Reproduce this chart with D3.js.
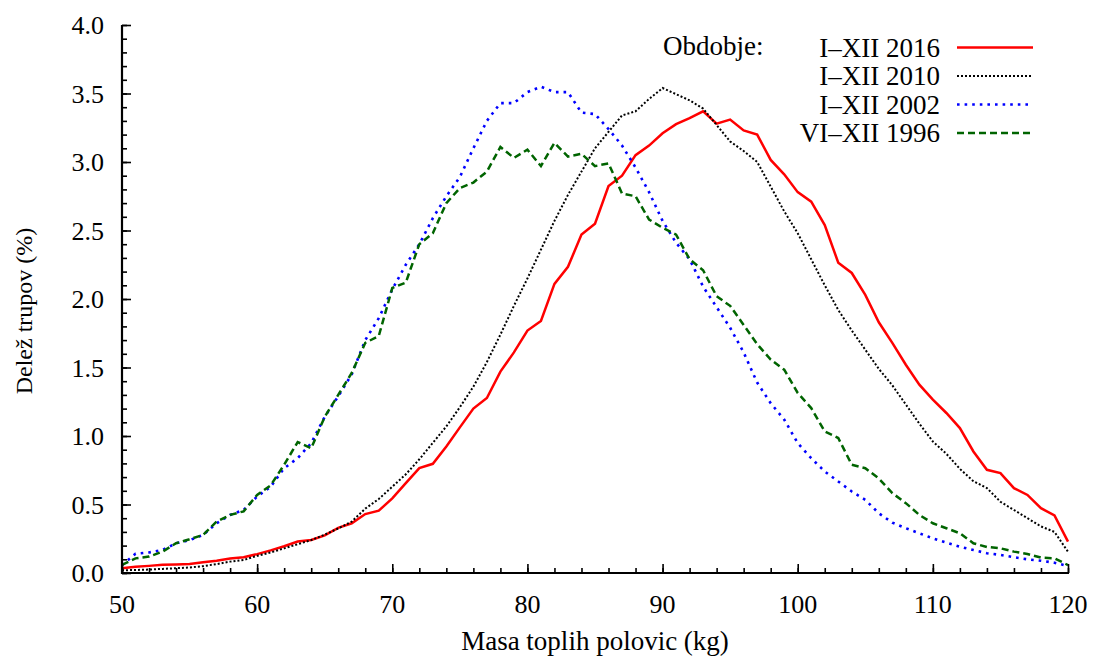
<!DOCTYPE html>
<html>
<head>
<meta charset="utf-8">
<script src="https://cdn.jsdelivr.net/npm/d3@7"></script>
<style>
  html, body { margin: 0; padding: 0; background: #ffffff; }
  svg { display: block; }
  text { font-family: "Liberation Serif", "Times New Roman", serif; fill: #000; }
</style>
</head>
<body>
<svg id="chart" width="1095" height="661"></svg>
<script>
// ---- data ----
const masses = d3.range(50, 121); // 50..120 kg

const s2016 = [0.035,0.046,0.052,0.060,0.062,0.065,0.078,0.090,0.105,0.115,
  0.138,0.165,0.195,0.230,0.241,0.275,0.330,0.363,0.430,0.455,
  0.545,0.656,0.766,0.797,0.924,1.063,1.200,1.277,1.470,1.610,
  1.770,1.840,2.110,2.235,2.470,2.550,2.825,2.900,3.050,3.120,
  3.210,3.276,3.320,3.370,3.280,3.310,3.230,3.200,3.015,2.910,
  2.780,2.710,2.540,2.265,2.190,2.030,1.830,1.680,1.520,1.375,
  1.265,1.168,1.058,0.887,0.753,0.729,0.619,0.570,0.473,0.420,
  0.229];

const s2010 = [0.020,0.022,0.025,0.030,0.035,0.040,0.050,0.065,0.083,0.095,
  0.125,0.150,0.180,0.210,0.240,0.280,0.325,0.375,0.470,0.540,
  0.630,0.720,0.830,0.950,1.070,1.210,1.360,1.540,1.740,1.950,
  2.150,2.360,2.570,2.760,2.930,3.100,3.220,3.340,3.370,3.460,
  3.540,3.495,3.450,3.390,3.270,3.150,3.080,3.000,2.820,2.640,
  2.480,2.290,2.100,1.920,1.770,1.630,1.490,1.370,1.230,1.090,
  0.960,0.870,0.760,0.670,0.620,0.520,0.460,0.400,0.340,0.300,
  0.155];

const s2002 = [0.058,0.140,0.150,0.168,0.217,0.240,0.278,0.363,0.424,0.460,
  0.558,0.630,0.765,0.838,0.948,1.140,1.290,1.450,1.700,1.860,
  2.070,2.250,2.400,2.590,2.750,2.890,3.100,3.300,3.430,3.430,
  3.510,3.550,3.510,3.510,3.360,3.350,3.240,3.120,2.960,2.780,
  2.570,2.410,2.290,2.090,1.940,1.790,1.610,1.390,1.240,1.120,
  0.948,0.838,0.741,0.668,0.595,0.534,0.436,0.368,0.327,0.290,
  0.253,0.222,0.192,0.168,0.144,0.132,0.115,0.100,0.090,0.075,
  0.051];

const s1996 = [0.060,0.107,0.120,0.156,0.217,0.246,0.278,0.375,0.424,0.450,
  0.570,0.640,0.790,0.956,0.910,1.140,1.300,1.460,1.680,1.730,
  2.080,2.120,2.400,2.480,2.700,2.810,2.850,2.930,3.110,3.030,
  3.090,2.970,3.140,3.040,3.060,2.970,2.990,2.770,2.750,2.580,
  2.520,2.470,2.290,2.210,2.020,1.950,1.810,1.670,1.558,1.484,
  1.314,1.204,1.033,0.985,0.790,0.765,0.690,0.583,0.510,0.424,
  0.363,0.327,0.290,0.217,0.190,0.180,0.156,0.139,0.112,0.107,
  0.058];

const seriesNames = ["I\u2013XII 2016", "I\u2013XII 2010", "I\u2013XII 2002", "VI\u2013XII 1996"];
const seriesValues = [s2016, s2010, s2002, s1996];
const seriesColors = ["#ff0000", "#000000", "#0000ff", "#006400"];
const seriesWidths = [2.5, 2, 2.6, 2.5];
const seriesDash = [null, "2,2", "2.6,5", "7,4"];

const xTicks = [50, 60, 70, 80, 90, 100, 110, 120];
const yTicks = [0, 0.5, 1.0, 1.5, 2.0, 2.5, 3.0, 3.5, 4.0];
const xMinor = d3.range(50, 121, 2);
const yMinor = d3.range(0, 40.5, 1).map(d => d / 10);

const xTitle = "Masa toplih polovic (kg)";
const yTitle = "Delež trupov (%)";
const legendTitle = "Obdobje:";

// ---- layout ----
const svg = d3.select("#chart");
const mLeft = 122, mRight = 1068, mTop = 25, mBottom = 573;
const x = d3.scaleLinear().domain([50, 120]).range([mLeft, mRight]);
const y = d3.scaleLinear().domain([0, 4]).range([mBottom, mTop]);

// series lines
const line = d3.line().x(d => x(d[0])).y(d => y(d[1]));
seriesValues.forEach((vals, i) => {
  const pts = masses.map((m, j) => [m, vals[j]]);
  svg.append("path")
    .attr("d", line(pts))
    .attr("fill", "none")
    .attr("stroke", seriesColors[i])
    .attr("stroke-width", seriesWidths[i])
    .attr("stroke-dasharray", seriesDash[i])
    .attr("stroke-linejoin", "miter");
});

// axes (inward ticks)
const axisG = svg.append("g");
const yMinorAxis = d3.axisRight(y).tickValues(yMinor).tickSize(5).tickFormat("");
const yMajorAxis = d3.axisRight(y).tickValues(yTicks).tickSize(9).tickFormat("");
const xMinorAxis = d3.axisTop(x).tickValues(xMinor).tickSize(5).tickFormat("");
const xMajorAxis = d3.axisTop(x).tickValues(xTicks).tickSize(9).tickFormat("");

[yMinorAxis, yMajorAxis].forEach(a => {
  axisG.append("g").attr("transform", `translate(${mLeft},0)`).call(a)
    .call(g => g.select(".domain").remove())
    .call(g => g.selectAll("line").attr("stroke", "#000").attr("stroke-width", 1.6));
});
[xMinorAxis, xMajorAxis].forEach(a => {
  axisG.append("g").attr("transform", `translate(0,${mBottom})`).call(a)
    .call(g => g.select(".domain").remove())
    .call(g => g.selectAll("line").attr("stroke", "#000").attr("stroke-width", 1.6));
});
// axis lines
axisG.append("line").attr("x1", mLeft).attr("x2", mLeft).attr("y1", mTop).attr("y2", mBottom + 1)
  .attr("stroke", "#000").attr("stroke-width", 2.2);
axisG.append("line").attr("x1", mLeft - 1).attr("x2", mRight + 1).attr("y1", mBottom).attr("y2", mBottom)
  .attr("stroke", "#000").attr("stroke-width", 2.2);

// tick labels
svg.append("g").selectAll("text").data(yTicks).join("text")
  .attr("x", 104).attr("y", d => y(d) + 9)
  .attr("text-anchor", "end").attr("font-size", 26)
  .text(d => d.toFixed(1));
svg.append("g").selectAll("text").data(xTicks).join("text")
  .attr("x", d => x(d)).attr("y", 613)
  .attr("text-anchor", "middle").attr("font-size", 26)
  .text(d => d);

// axis titles
svg.append("text").attr("x", 595).attr("y", 650)
  .attr("text-anchor", "middle").attr("font-size", 27).text(xTitle);
svg.append("text").attr("transform", "translate(32,311) rotate(-90)")
  .attr("text-anchor", "middle").attr("font-size", 24).text(yTitle);

// legend
svg.append("text").attr("x", 663).attr("y", 55).attr("font-size", 27).text(legendTitle);
const legRowY = [47.5, 76, 104.5, 133];
seriesNames.forEach((name, i) => {
  svg.append("text").attr("x", 940).attr("y", legRowY[i] + 9)
    .attr("text-anchor", "end").attr("font-size", 27).text(name);
  svg.append("line").attr("x1", 957).attr("x2", 1033)
    .attr("y1", legRowY[i]).attr("y2", legRowY[i])
    .attr("stroke", seriesColors[i]).attr("stroke-width", seriesWidths[i])
    .attr("stroke-dasharray", seriesDash[i]);
});
</script>
</body>
</html>
